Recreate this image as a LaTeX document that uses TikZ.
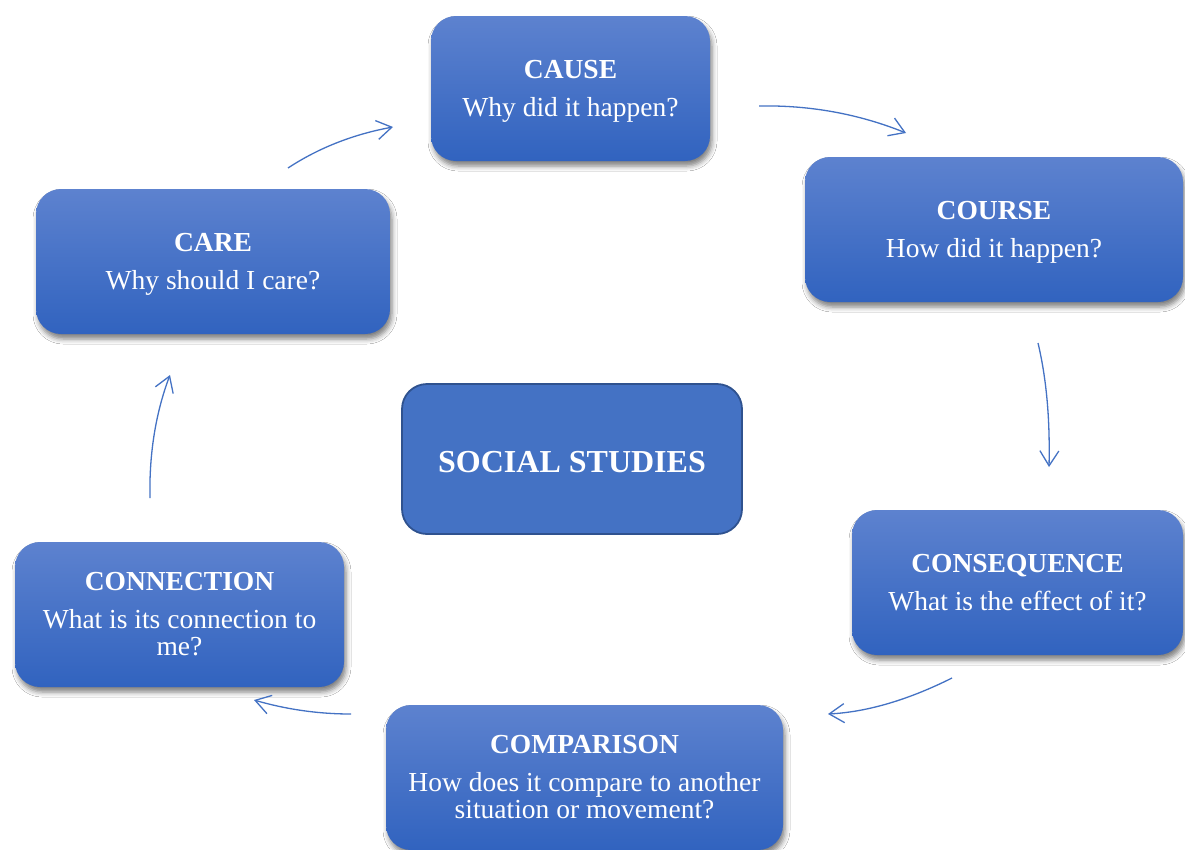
\documentclass[tikz,border=0pt]{standalone}
\usepackage{fontspec}
\setmainfont{Liberation Serif}
\usetikzlibrary{arrows.meta,shadows.blur}
\definecolor{boxtop}{HTML}{5D82CF}
\definecolor{boxbot}{HTML}{3163BF}
\definecolor{hub}{HTML}{4472C4}
\definecolor{hubline}{HTML}{2F528F}
\definecolor{flow}{HTML}{4472C4}
\begin{document}
\begin{tikzpicture}[x=1pt,y=-1pt,
  stage/.style={rounded corners=25pt, top color=boxtop, bottom color=boxbot,
    text=white, align=center, minimum height=145pt, inner sep=0pt,
    font=\fontsize{27.5}{27}\selectfont,
    blur shadow={shadow xshift=2pt, shadow yshift=-5pt, shadow blur radius=5pt, shadow opacity=50}},
  hubbox/.style={rounded corners=25pt, fill=hub, draw=hubline, line width=1.8pt,
    text=white, align=center, minimum width=340pt, minimum height=150pt,
    font=\fontsize{32}{34}\selectfont\bfseries},
  flowarrow/.style={draw=flow, line width=1.3pt,
    -{Straight Barb[length=15pt,width=19pt]}}]
\fill[white] (0,0) rectangle (1185,849);
\useasboundingbox (0,0) rectangle (1185,849);

% central topic
\node[hubbox] (hub) at (572,459) {\rule{0pt}{27pt}SOCIAL STUDIES};

% the six questions around it
\node[stage, minimum width=279pt] (cause) at (570.5,88.5)
  {\rule{0pt}{24pt}\textbf{CAUSE}\\[11pt]Why did it happen?};
\node[stage, minimum width=378pt] (course) at (994,229.5)
  {\rule{0pt}{24pt}\textbf{COURSE}\\[11pt]How did it happen?};
\node[stage, minimum width=331pt] (consequence) at (1017.5,582.5)
  {\textbf{CONSEQUENCE}\\[11pt]What is the effect of it?};
\node[stage, minimum width=397pt] (comparison) at (584.5,777.5)
  {\textbf{COMPARISON}\\[11pt]How does it compare to another\\situation or movement?};
\node[stage, minimum width=329pt] (connection) at (179.5,614.5)
  {\textbf{CONNECTION}\\[11pt]What is its connection to\\me?};
\node[stage, minimum width=354pt] (care) at (213,261.5)
  {\rule{0pt}{24pt}\textbf{CARE}\\[11pt]Why should I care?};

% arrow end points
\coordinate (a1s) at (288,168);  \coordinate (a1e) at (393,127);
\coordinate (a2s) at (759,106);  \coordinate (a2e) at (906,133);
\coordinate (a3s) at (1038,343); \coordinate (a3e) at (1049,467);
\coordinate (a4s) at (952,678);  \coordinate (a4e) at (828,714);
\coordinate (a5s) at (351,714);  \coordinate (a5e) at (254,700);
\coordinate (a6s) at (150,498);  \coordinate (a6e) at (170,375);

% gently curved arrows running clockwise round the hub
\draw[flowarrow] (a1s) .. controls (320,147) and (355,134) .. (a1e);
\draw[flowarrow] (a2s) .. controls (810,105) and (859,114) .. (a2e);
\draw[flowarrow] (a3s) .. controls (1047,381) and (1050,422) .. (a3e);
\draw[flowarrow] (a4s) .. controls (908,700) and (867,712) .. (a4e);
\draw[flowarrow] (a5s) .. controls (317,714) and (285,709) .. (a5e);
\draw[flowarrow] (a6s) .. controls (149,453) and (156,412) .. (a6e);
\end{tikzpicture}
\end{document}
